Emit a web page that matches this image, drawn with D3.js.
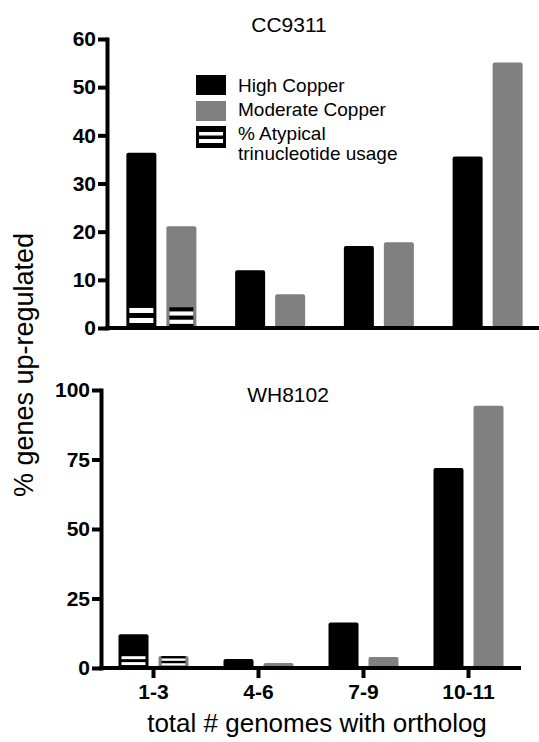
<!DOCTYPE html>
<html>
<head>
<style>
  body { margin: 0; background: #fff; }
  svg text { font-family: Arial, "Liberation Sans", Helvetica, sans-serif; }
</style>
</head>
<body>
<div id="chart"></div>
<script src="https://d3js.org/d3.v7.min.js"></script>
<script>
// categories and values
var categories = ["1-3", "4-6", "7-9", "10-11"];
var series = ["High Copper", "Moderate Copper"];

var cc9311High = [36.4, 12.0, 17.0, 35.6];
var cc9311Moderate = [21.1, 7.0, 17.8, 55.1];
var cc9311AtypHigh = [5.2, 0, 0, 0];
var cc9311AtypModerate = [4.3, 0, 0, 0];

var wh8102High = [12.1, 3.2, 16.4, 71.9];
var wh8102Moderate = [4.3, 1.8, 4.0, 94.3];
var wh8102AtypHigh = [5.3, 0, 0, 0];
var wh8102AtypModerate = [4.3, 0, 0, 0];

var cc9311Ticks = [0, 10, 20, 30, 40, 50, 60];
var wh8102Ticks = [0, 25, 50, 75, 100];

var legendLabels = ["High Copper", "Moderate Copper", ["% Atypical", "trinucleotide usage"]];

var colors = { "High Copper": "#000000", "Moderate Copper": "#808080" };

var svg = d3.select("#chart").append("svg")
  .attr("width", 539)
  .attr("height", 742);

// one panel = one small bar chart
function drawPanel(opt) {
  var g = svg.append("g");

  var x0 = d3.scaleBand().domain(categories).range([opt.left, opt.right]).padding(0);
  var x1 = d3.scaleBand().domain(series).range([0, 70]).paddingInner(0.25);
  var y = d3.scaleLinear().domain([0, opt.max]).range([opt.bottom, opt.top]);

  var rows = categories.map(function(c, i) {
    return {
      cat: c,
      vals: [
        { s: series[0], v: opt.high[i], a: opt.atypHigh[i] },
        { s: series[1], v: opt.moderate[i], a: opt.atypModerate[i] }
      ]
    };
  });

  var groups = g.selectAll(".grp")
    .data(rows)
    .enter().append("g")
    .attr("transform", function(d) {
      return "translate(" + (x0(d.cat) + x0.bandwidth() / 2 - 35 + opt.shift) + ",0)";
    });

  groups.selectAll("rect.bar")
    .data(function(d) { return d.vals; })
    .enter().append("rect")
    .attr("class", "bar")
    .attr("x", function(d) { return x1(d.s); })
    .attr("width", x1.bandwidth())
    .attr("y", function(d) { return y(d.v); })
    .attr("height", function(d) { return y(0) - y(d.v); })
    .attr("rx", 2)
    .attr("fill", function(d) { return colors[d.s]; });

  // atypical usage: black block with two white stripes, inside the bar
  var atyp = groups.selectAll("g.atyp")
    .data(function(d) { return d.vals.filter(function(e) { return e.a > 0; }); })
    .enter().append("g").attr("class", "atyp");

  atyp.append("rect")
    .attr("x", function(d) { return x1(d.s) + 3; })
    .attr("width", x1.bandwidth() - 6)
    .attr("y", function(d) { return y(d.a); })
    .attr("height", function(d) { return y(0) - y(d.a); })
    .attr("fill", "#000");

  [[0.2, 0.4], [0.6, 0.8]].forEach(function(f) {
    atyp.append("rect")
      .attr("x", function(d) { return x1(d.s) + 3; })
      .attr("width", x1.bandwidth() - 6)
      .attr("y", function(d) { return y(d.a * (1 - f[0])); })
      .attr("height", function(d) { return y(d.a * (1 - f[1])) - y(d.a * (1 - f[0])); })
      .attr("fill", "#fff");
  });

  // y axis
  var ya = g.append("g")
    .attr("transform", "translate(" + opt.left + ",0)")
    .call(d3.axisLeft(y).tickValues(opt.ticks).tickSize(9).tickSizeOuter(0).tickPadding(2));
  ya.select(".domain").attr("stroke-width", 4).attr("stroke-linecap", "square");
  ya.selectAll(".tick line").attr("stroke-width", 4);
  ya.selectAll(".tick text")
    .attr("font-size", 21).attr("font-weight", "bold")
    .attr("font-family", "Arial, 'Liberation Sans', sans-serif").attr("fill", "#000");

  // x axis
  var xa = g.append("g")
    .attr("transform", "translate(0," + opt.bottom + ")")
    .call(d3.axisBottom(x0).tickSize(opt.xTicks ? 10 : 0).tickSizeOuter(0).tickPadding(6));
  xa.select(".domain").attr("stroke-width", 4).attr("d", "M" + (opt.left - 2) + ",0H" + opt.right);
  xa.selectAll(".tick line").attr("stroke-width", 4);
  xa.selectAll(".tick text")
    .attr("font-size", 21).attr("font-weight", "bold")
    .attr("font-family", "Arial, 'Liberation Sans', sans-serif").attr("fill", "#000")
    .style("display", opt.xTicks ? null : "none");

  svg.append("text")
    .attr("x", opt.titleX)
    .attr("y", opt.titleY)
    .attr("text-anchor", "middle")
    .attr("font-size", 21)
    .text(opt.title);
}

drawPanel({
  title: "CC9311", titleX: 289, titleY: 32,
  left: 107, right: 542, top: 39, bottom: 328, shift: 0,
  max: 60, ticks: cc9311Ticks,
  high: cc9311High, moderate: cc9311Moderate,
  atypHigh: cc9311AtypHigh, atypModerate: cc9311AtypModerate,
  xTicks: false
});

drawPanel({
  title: "WH8102", titleX: 288, titleY: 402,
  left: 101, right: 521, top: 390, bottom: 668, shift: 0,
  max: 100, ticks: wh8102Ticks,
  high: wh8102High, moderate: wh8102Moderate,
  atypHigh: wh8102AtypHigh, atypModerate: wh8102AtypModerate,
  xTicks: true
});

// legend
var legend = svg.append("g").attr("transform", "translate(196,75)");
legend.append("rect").attr("x", 0).attr("y", 0).attr("width", 30).attr("height", 20).attr("fill", colors[series[0]]);
legend.append("rect").attr("x", 0).attr("y", 26).attr("width", 30).attr("height", 20).attr("fill", colors[series[1]]);
legend.append("rect").attr("x", 0).attr("y", 51).attr("width", 30).attr("height", 22).attr("fill", "#000");
legend.append("rect").attr("x", 3).attr("y", 57).attr("width", 24).attr("height", 3.5).attr("fill", "#fff");
legend.append("rect").attr("x", 3).attr("y", 64).attr("width", 24).attr("height", 4).attr("fill", "#fff");

legend.append("text").attr("x", 42).attr("y", 17).attr("font-size", 19).text(legendLabels[0]);
legend.append("text").attr("x", 42).attr("y", 41).attr("font-size", 19).text(legendLabels[1]);
legend.append("text").attr("x", 42).attr("y", 65).attr("font-size", 19).text(legendLabels[2][0]);
legend.append("text").attr("x", 42).attr("y", 85).attr("font-size", 19).text(legendLabels[2][1]);

// axis titles
svg.append("text")
  .attr("transform", "rotate(-90)")
  .attr("x", -365)
  .attr("y", 33)
  .attr("text-anchor", "middle")
  .attr("font-size", 27)
  .text("% genes up-regulated");

svg.append("text")
  .attr("x", 317)
  .attr("y", 732)
  .attr("text-anchor", "middle")
  .attr("font-size", 26)
  .text("total # genomes with ortholog");
</script>
</body>
</html>
